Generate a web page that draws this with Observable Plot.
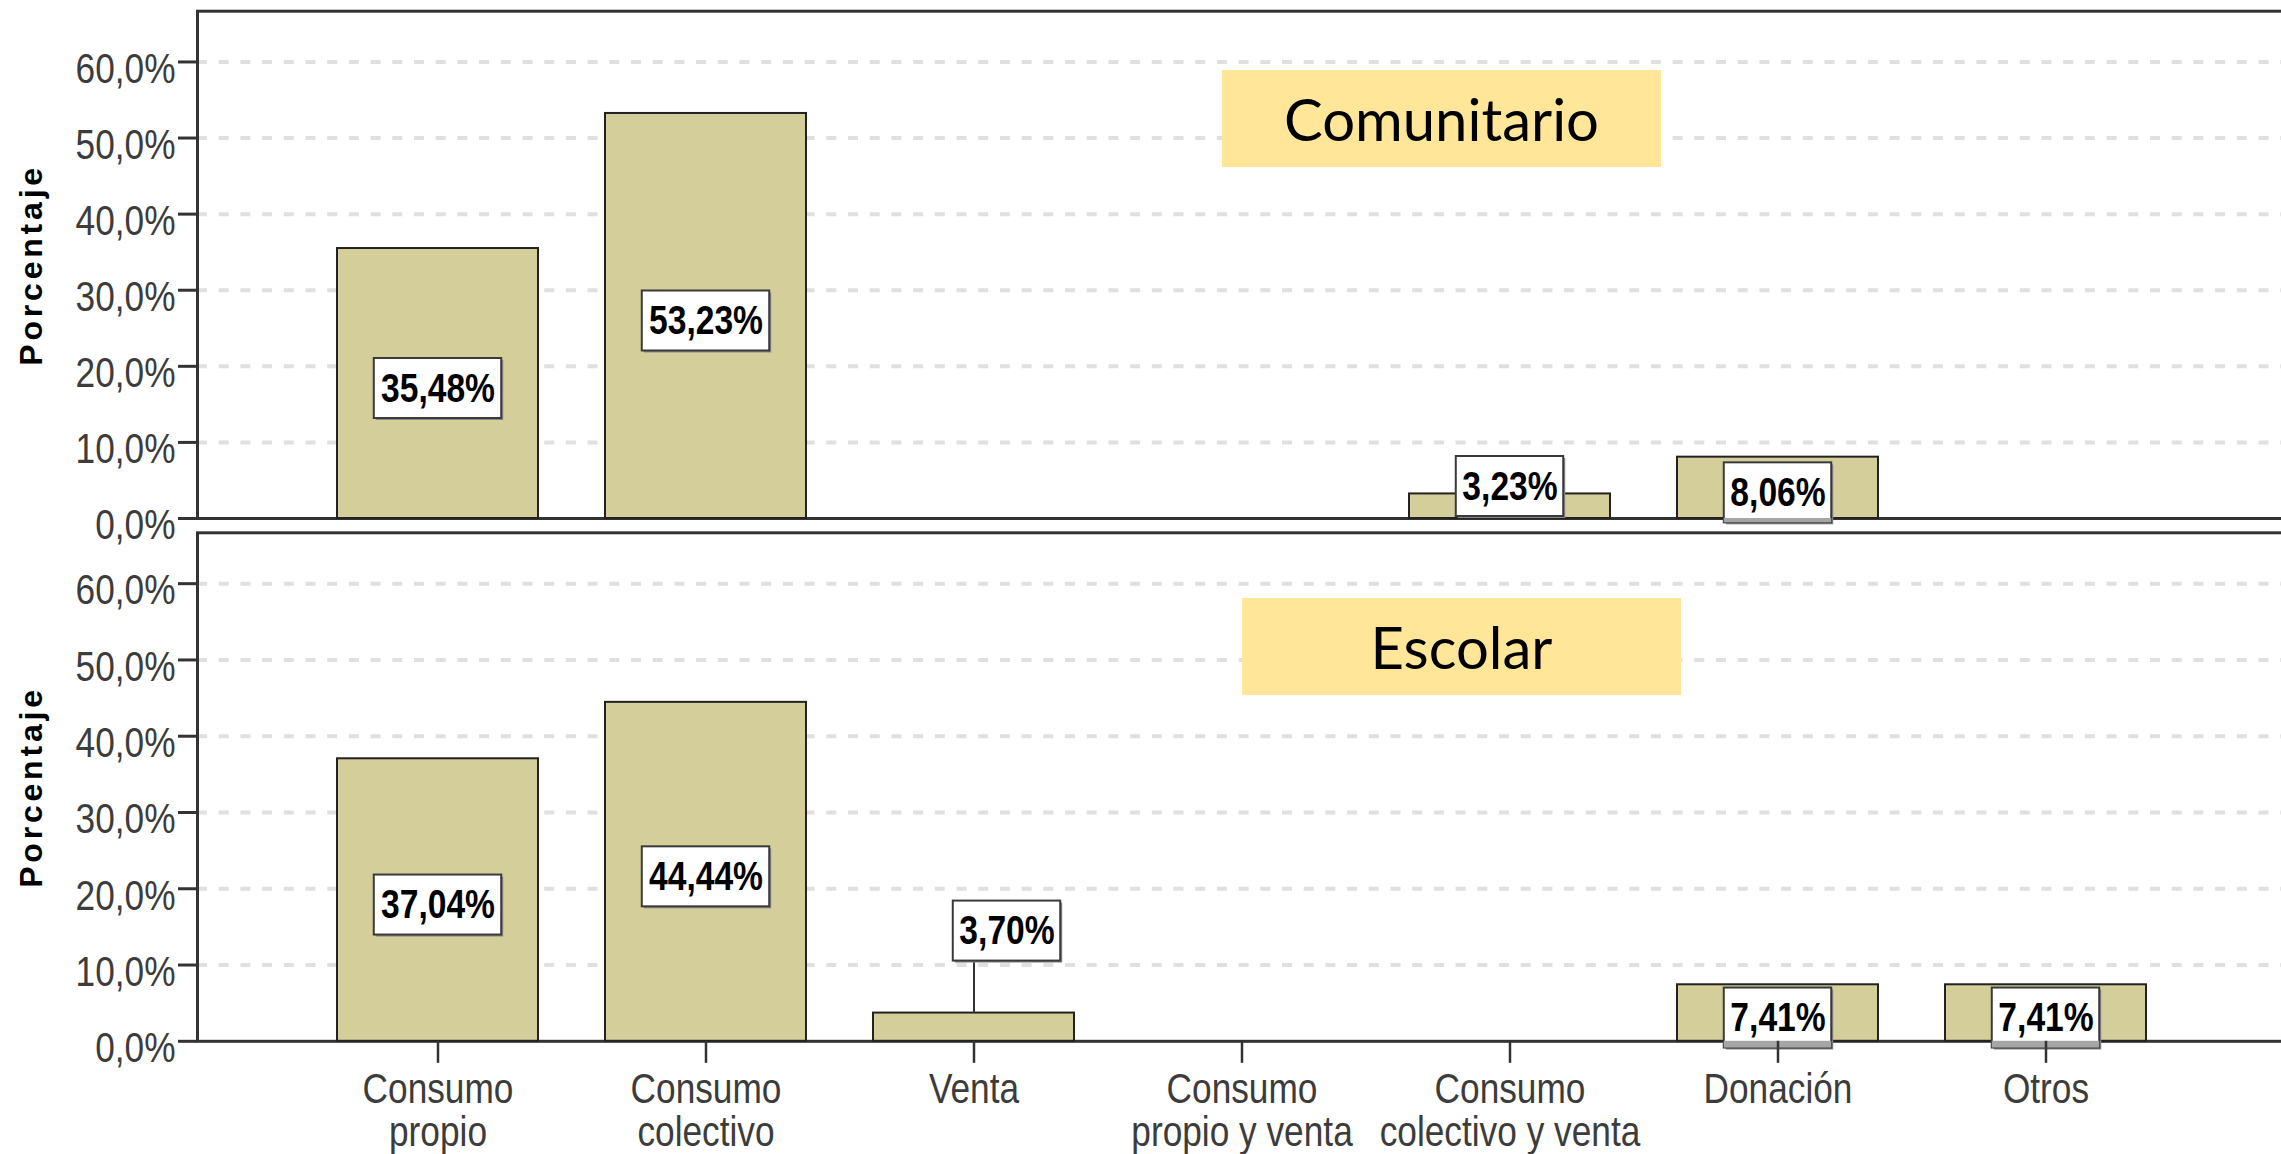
<!DOCTYPE html>
<html>
<head>
<meta charset="utf-8">
<script src="https://cdn.jsdelivr.net/npm/d3@7"></script>
<script src="https://cdn.jsdelivr.net/npm/@observablehq/plot@0.6"></script>
<style>
  html, body { margin: 0; padding: 0; background: #fff; }
  #chart { position: relative; width: 2281px; height: 1154px; overflow: hidden; background: #fff; }
  #chart svg { position: absolute; left: 0; display: block; }
  .tag { position: absolute; background: #ffe699; color: #000;
         font-family: Lato, "Open Sans", sans-serif; font-size: 58px;
         display: flex; align-items: center; justify-content: center; }
</style>
</head>
<body>
<div id="chart"></div>
<script>
// ---------- data ----------
const categories = ["Consumo propio", "Consumo colectivo", "Venta", "Consumo propio y venta",
                    "Consumo colectivo y venta", "Donación", "Otros"];
const tickLabels = ["Consumo\npropio", "Consumo\ncolectivo", "Venta", "Consumo\npropio y venta",
                    "Consumo\ncolectivo y venta", "Donación", "Otros"];
const comunitarioValues = [35.48, 53.23, null, null, 3.23, 8.06, null];
const escolarValues     = [37.04, 44.44, 3.70, null, null, 7.41, 7.41];
const yTicks = [0, 10, 20, 30, 40, 50, 60];
const yMax = 66.67;
const panelTitles = ["Comunitario", "Escolar"];
const yLabel = "Porcentaje";

// ---------- layout / style ----------
const W = 2281, ML = 197, MR = -4;
const padIn = 0.25, padOut = 0.51;
const step = (W - ML - MR) / (categories.length - padIn + 2 * padOut);
const bw = step * (1 - padIn);
const NARROW = '"Liberation Sans", Arial, sans-serif';   // condensed by a horizontal scale below
const NARROW_SCALE = 0.82;
const BAR_FILL = "#d4cf9a";
const INK = "#333";

const fmtPct = v => v.toFixed(2).replace(".", ",") + "%";
const fmtTick = t => t.toFixed(1).replace(".", ",") + "%";

function panel({values, height, marginTop, marginBottom, showX, smallMode}) {
  const rows = categories.map((cat, i) => ({cat, v: values[i]})).filter(d => d.v != null);
  const k = (height - marginTop - marginBottom) / yMax;   // px per percentage point
  const hb = 30 / k;                                      // half box height in data units
  const labels = rows.map(d => {
    const label = fmtPct(d.v);
    let c = d.v / 2 - 5 / k, callout = false;
    if (d.v * k < 40) {
      if (smallMode === "callout") { c = d.v + 82 / k; callout = true; }
      else c = hb + 2 / k;
    }
    const boxW = 20 * label.length + 8;
    return {...d, label, c, callout, inset: (bw - boxW) / 2};
  });

  const marks = [
    Plot.ruleY(yTicks.filter(t => t > 0), {stroke: "#e0e0e0", strokeWidth: 4, strokeDasharray: "10,11.7"}),
    Plot.frame({stroke: INK, strokeWidth: 3}),
    Plot.barY(rows, {x: "cat", y: "v", fill: BAR_FILL, stroke: "#222", strokeWidth: 2})
  ];

  for (const L of labels) {
    const dx = L.callout ? 33 : 0;
    if (L.callout) {
      marks.push(Plot.ruleX([L], {x: "cat", y1: "v", y2: d => d.c - hb, stroke: "#333", strokeWidth: 2}));
    }
    marks.push(
      Plot.barY([L], {x: "cat", y1: d => d.c - hb, y2: d => d.c + hb, insetLeft: L.inset, insetRight: L.inset,
                      dx: dx + 2, dy: 2, fill: "#8a8a8a"}),
      Plot.barY([L], {x: "cat", y1: d => d.c - hb, y2: d => d.c + hb, insetLeft: L.inset, insetRight: L.inset,
                      dx, fill: "white", stroke: "#3a3a3a", strokeWidth: 2})
    );
    if (L.c - hb < 0) {
      marks.push(Plot.barY([L], {x: "cat", y1: d => d.c - hb, y2: 0, insetLeft: L.inset, insetRight: L.inset,
                                 dx, fill: "#a6a6a6"}));
    }
    marks.push(Plot.text([L], {x: "cat", y: "c", text: "label", dx, fontSize: 41, fontWeight: "bold",
                               fontFamily: NARROW, fill: "black"}));
  }

  marks.push(
    Plot.axisY({ticks: yTicks, tickSize: 19, tickFormat: () => "", stroke: INK, strokeWidth: 3, label: null}),
    Plot.axisY({ticks: yTicks, tickSize: 0, tickPadding: 22, dy: 7, tickFormat: fmtTick, fontSize: 43,
                fontFamily: NARROW, fill: "#3c3c3c", label: null}),
    Plot.text([yLabel], {frameAnchor: "left", textAnchor: "middle", dx: -166, rotate: -90, fontSize: 32,
                         fontWeight: "bold", fontFamily: '"Liberation Sans", Arial, sans-serif', fill: "black"})
  );
  if (showX) {
    marks.push(Plot.axisX({tickSize: 22, tickPadding: 9, strokeWidth: 2.5, stroke: INK, fill: "#3c3c3c",
                           fontSize: 43, fontFamily: NARROW, lineHeight: 1.0,
                           tickFormat: c => tickLabels[categories.indexOf(c)], label: null}));
  }

  return Plot.plot({
    width: W, height, marginLeft: ML, marginRight: MR, marginTop, marginBottom,
    style: {background: "transparent", fontFamily: NARROW, overflow: "visible"},
    x: {domain: categories, paddingInner: padIn, paddingOuter: padOut, align: 0.5, axis: showX ? undefined : null},
    y: {domain: [0, yMax]},
    marks
  });
}

const chart = document.getElementById("chart");
const top1 = panel({values: comunitarioValues, height: 525, marginTop: 10.7, marginBottom: 7, showX: false, smallMode: "clamp"});
top1.style.top = "0px";
chart.appendChild(top1);
const bot = panel({values: escolarValues, height: 629, marginTop: 7.3, marginBottom: 113.2, showX: true, smallMode: "callout"});
bot.style.top = "525px";
chart.appendChild(bot);

// emulate a narrow face: scale each text horizontally around its own anchor
d3.select(chart).selectAll("svg text").each(function () {
  if (this.textContent === yLabel) { this.setAttribute("letter-spacing", 3.8); return; }
  const b = this.getBBox();
  const anchor = getComputedStyle(this).textAnchor;
  const ax = anchor === "end" ? b.x + b.width : anchor === "middle" ? b.x + b.width / 2 : b.x;
  const t = this.getAttribute("transform") || "";
  this.setAttribute("transform", `${t} translate(${ax},0) scale(${NARROW_SCALE},1) translate(${-ax},0)`);
});

// panel titles (overlay boxes)
const tagPos = [{left: 1222, top: 70}, {left: 1242, top: 598}];
panelTitles.forEach((t, i) => {
  const div = document.createElement("div");
  div.className = "tag";
  div.textContent = t;
  Object.assign(div.style, {left: tagPos[i].left + "px", top: tagPos[i].top + "px", width: "439px", height: "97px"});
  chart.appendChild(div);
});
</script>
</body>
</html>
